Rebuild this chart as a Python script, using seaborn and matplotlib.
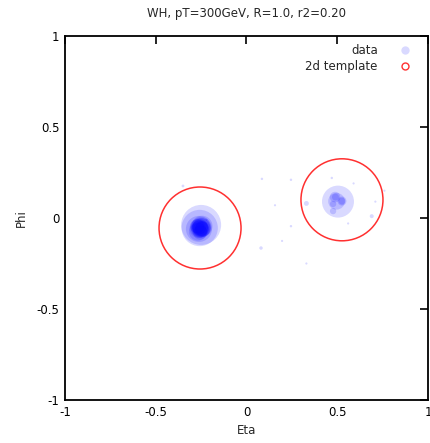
import numpy as np
import pandas as pd
import matplotlib.pyplot as plt
import seaborn as sns
from matplotlib.lines import Line2D

# particles: eta, phi, pt weight (sets marker area)
eta = [-0.250, -0.258, -0.262, -0.245, -0.268, -0.240, -0.272, -0.255, -0.250, -0.262,
       -0.253, -0.248, -0.258, -0.250, -0.256, -0.246, -0.262, -0.254,
       -0.350, -0.220,
       0.504, 0.496, 0.526, 0.488, 0.477, 0.477, 0.526, 0.490,
       0.085, 0.245, 0.157, 0.245, 0.196, 0.080, 0.330, 0.330,
       0.470, 0.590, 0.710, 0.690, 0.560, 0.760]
phi = [-0.038, -0.055, -0.060, -0.045, -0.075, -0.060, -0.045, -0.080, -0.050, -0.058,
       -0.055, -0.050, -0.060, -0.062, -0.048, -0.058, -0.052, -0.055,
       0.176, -0.010,
       0.090, 0.092, 0.093, 0.115, 0.077, 0.038, 0.093, 0.115,
       0.215, 0.210, 0.070, -0.045, -0.126, -0.165, -0.250, 0.080,
       0.220, 0.190, 0.090, 0.010, -0.030, 0.150]
pt = [420, 330, 170, 110, 80, 60, 50, 50, 100, 90,
      100, 80, 70, 64, 60, 49, 49, 64,
      2, 1,
      256, 70, 20, 28, 10, 10, 12, 12,
      1.5, 1.5, 1.2, 1.5, 1.2, 3, 1.2, 6,
      1.5, 1.2, 1.2, 4, 1.2, 1.2]

# template jet axes
tmpl_eta = [-0.256, 0.526]
tmpl_phi = [-0.055, 0.100]

df = pd.DataFrame({'eta': eta, 'phi': phi, 'pt': pt})
tmpl = pd.DataFrame({'eta': tmpl_eta, 'phi': tmpl_phi})

sns.set_style('white')
plt.rcParams['font.family'] = ['DejaVu Sans']
fig = plt.figure(figsize=(4.31, 4.43), dpi=100)
ax = fig.add_axes([65/431, 43/443, 363/431, 364/443])

px = 0.72  # points per pixel at dpi 100
sns.scatterplot(data=df, x='eta', y='phi', size='pt', sizes=(0, (2*px)**2*400),
                size_norm=(0, 400), color='#0000ff', alpha=0.15, linewidth=0,
                legend=False, ax=ax)
sns.scatterplot(data=tmpl, x='eta', y='phi', s=(2*41*px)**2, facecolor='none',
                edgecolor='#ff3030', linewidth=1.1, legend=False, ax=ax)

ax.set_xlim(-1, 1)
ax.set_ylim(-1, 1)
ax.set_xticks([-1, -0.5, 0, 0.5, 1])
ax.set_yticks([-1, -0.5, 0, 0.5, 1])
ax.set_xticklabels(['-1', '-0.5', '0', '0.5', '1'])
ax.set_yticklabels(['-1', '-0.5', '0', '0.5', '1'])
ax.tick_params(direction='in', length=6, width=1.2, top=True, right=True,
               labelsize=8.5, pad=4, colors='black')
for s in ax.spines.values():
    s.set_linewidth(1.3)
    s.set_color('black')
ax.set_xlabel('Eta', fontsize=8.5, labelpad=4)
ax.set_ylabel('Phi', fontsize=8.5, labelpad=6)
ax.set_title('WH, pT=300GeV, R=1.0, r2=0.20', fontsize=8.5, pad=14)

handles = [Line2D([], [], marker='o', ls='none', color='#0000ff', alpha=0.15,
                  markeredgewidth=0, markersize=6),
           Line2D([], [], marker='o', ls='none', markerfacecolor='none',
                  markeredgecolor='#ff3030', markersize=5, markeredgewidth=1)]
leg = ax.legend(handles, ['data', '2d template'], loc='upper right', frameon=False,
                markerfirst=False, fontsize=8.5, handlelength=1.5, handletextpad=1.6,
                labelspacing=0.25, borderaxespad=0.3, bbox_to_anchor=(0.985, 1.0))
for t in leg.get_texts():
    t.set_ha('right')

fig.savefig('out.png', dpi=100)
